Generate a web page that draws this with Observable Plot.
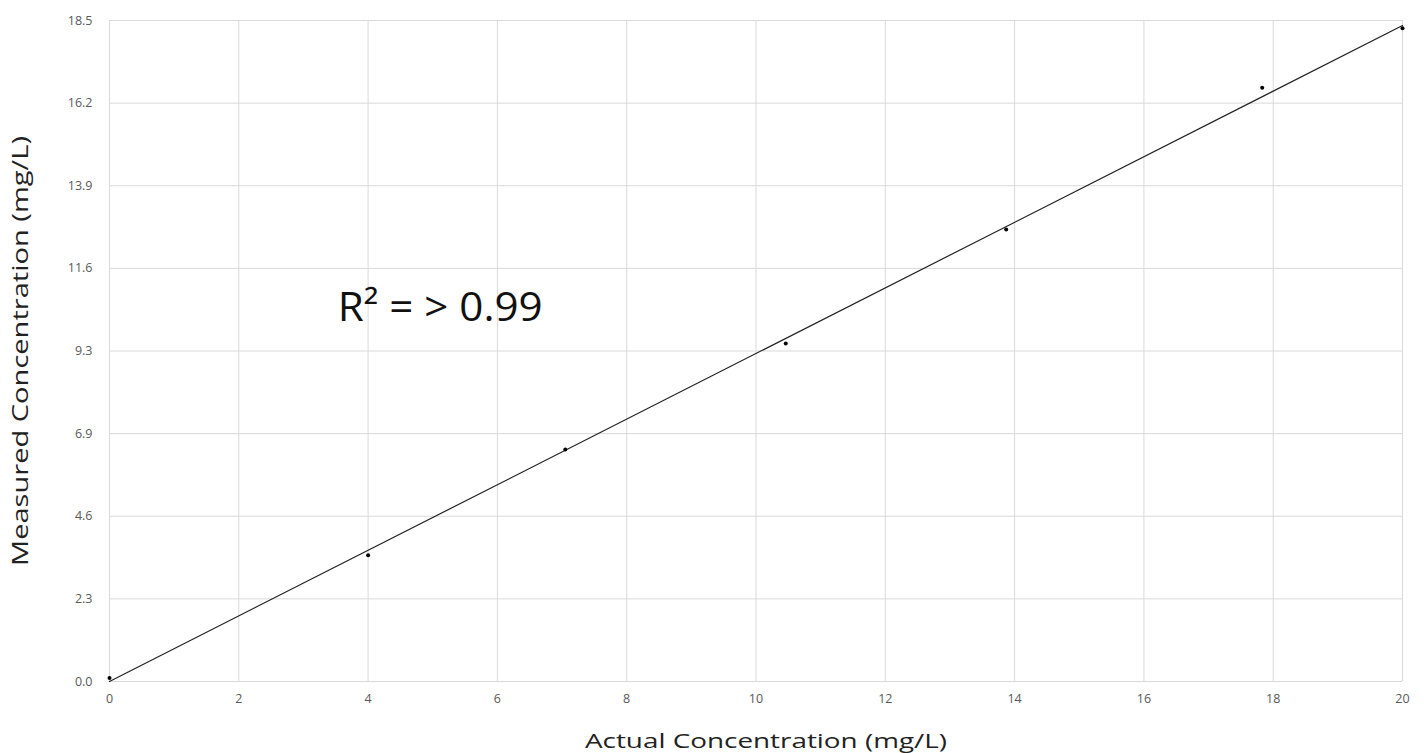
<!DOCTYPE html>
<html>
<head>
<meta charset="utf-8">
<script src="https://cdn.jsdelivr.net/npm/d3@7"></script>
<script src="https://cdn.jsdelivr.net/npm/@observablehq/plot@0.6"></script>
<style>
  html, body { margin: 0; padding: 0; background: #fff; }
  #chart svg { display: block; }
</style>
</head>
<body>
<div id="chart"></div>
<script>
const actual = [0, 4.0, 7.05, 10.46, 13.87, 17.83, 20.0];
const measured = [0.1, 3.53, 6.49, 9.46, 12.65, 16.62, 18.28];
const trendX = [0, 20];
const trendY = [0, 18.36];
const xTicks = [0, 2, 4, 6, 8, 10, 12, 14, 16, 18, 20];
const yTicks = [0, 2.3125, 4.625, 6.9375, 9.25, 11.5625, 13.875, 16.1875, 18.5];
const yTickLabels = ["0.0", "2.3", "4.6", "6.9", "9.3", "11.6", "13.9", "16.2", "18.5"];
const annotation = "R² = > 0.99";
const xTitle = "Actual Concentration (mg/L)";
const yTitle = "Measured Concentration (mg/L)";

const points = actual.map((x, i) => ({x, y: measured[i]}));
const trend = trendX.map((x, i) => ({x, y: trendY[i]}));

const chart = Plot.plot({
  width: 1424,
  height: 753,
  marginLeft: 109,
  marginRight: 22,
  marginTop: 20,
  marginBottom: 72,
  style: {fontFamily: "'Open Sans', sans-serif", background: "#fff"},
  x: {domain: [0, 20], ticks: xTicks, label: null},
  y: {domain: [0, 18.5], ticks: yTicks, label: null},
  marks: [
    Plot.gridX(xTicks, {stroke: "#d9d9d9", strokeOpacity: 1, strokeWidth: 1}),
    Plot.gridY(yTicks, {stroke: "#d9d9d9", strokeOpacity: 1, strokeWidth: 1}),
    Plot.axisX(xTicks, {tickSize: 0, tickPadding: 13, fontSize: 12.5, fill: "#595959", tickFormat: d => String(d)}),
    Plot.axisY(yTicks, {tickSize: 0, tickPadding: 17, fontSize: 12.5, fill: "#595959",
      tickFormat: d => yTickLabels[yTicks.indexOf(d)]}),
    Plot.line(trend, {x: "x", y: "y", stroke: "#222", strokeWidth: 1.2}),
    Plot.dot(points, {x: "x", y: "y", r: 2, fill: "#000", stroke: "none"}),
    Plot.text([annotation], {x: 3.53, y: 10.45, text: d => d, textAnchor: "start", fontSize: 40, fill: "#111"}),
    Plot.text([xTitle], {frameAnchor: "bottom", dy: 66, dx: 10, x: 10, text: d => d, fontSize: 20, fill: "#222"}),
    Plot.text([yTitle], {frameAnchor: "left", dx: -89, rotate: -90, textAnchor: "middle", text: d => d, fontSize: 22, fill: "#222"})
  ]
});
const stretch = (label, len) => d3.select(chart).selectAll("text")
  .filter(function() { return this.textContent === label; })
  .attr("textLength", len).attr("lengthAdjust", "spacingAndGlyphs");
stretch(xTitle, 362);
stretch(annotation, 205);
stretch(yTitle, 430);
document.getElementById("chart").appendChild(chart);
</script>
</body>
</html>
